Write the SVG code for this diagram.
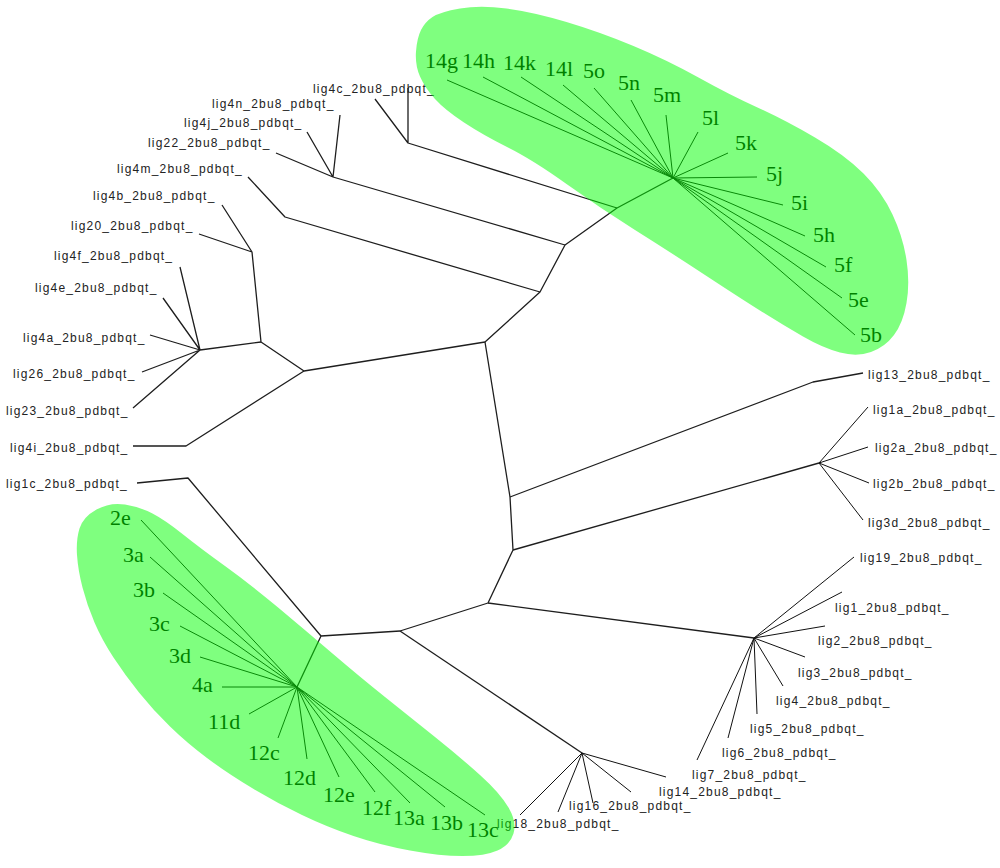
<svg xmlns="http://www.w3.org/2000/svg" width="1000" height="868" viewBox="0 0 1000 868">
<style>
.lbl{font-family:"Liberation Sans",Arial,sans-serif;font-size:12px;letter-spacing:1.2px;fill:#222}
.g{font-family:"Liberation Serif","Times New Roman",serif;font-size:22px;fill:#000}
.e{fill:none;stroke:#1e1e1e;stroke-width:1.3;stroke-linejoin:round}
.t{fill:none;stroke:#111;stroke-width:1}
.hl{fill:#00ff00;fill-opacity:0.5;stroke:none}
</style>
<rect width="1000" height="868" fill="#fff"/>
<g id="connectors">
<path class="e" d="M485,342 L540,292 L565,245 L617,208 L673,178"/>
<path class="e" d="M617,208 L408,143 L408,88 M408,143 L375,99"/>
<path class="e" d="M565,245 L333,177 L340,115 M333,177 L307,132 M333,177 L276,153"/>
<path class="e" d="M540,292 L285,217 L248,177"/>
<path class="e" d="M485,342 L304,371 L261,342 L252,252 L222,205 M252,252 L199,234"/>
<path class="e" d="M261,342 L200,350 L180,267 M200,350 L163,298 M200,350 L150,335 M200,350 L142,372 M200,350 L133,408"/>
<path class="e" d="M304,371 L186,446 L133,446"/>
<path class="e" d="M137,483 L188,478 L321,636"/>
<path class="e" d="M485,342 L510,497 L513,550 L488,603 L400,631 L321,636 L297,687"/>
<path class="e" d="M510,497 L813,382 L863,373"/>
<path class="e" d="M513,550 L819,463"/>
<path class="t" d="M819,463 L868,407 M819,463 L868,447 M819,463 L869,483 M819,463 L863,520"/>
<path class="e" d="M488,603 L754,638"/>
<path class="t" d="M754,638 L854,557 M754,638 L842,592 M754,638 L825,626 M754,638 L805,657 M754,638 L783,686 M754,638 L757,714 M754,638 L728,738 M754,638 L697,760"/>
<path class="e" d="M400,631 L582,753"/>
<path class="t" d="M582,753 L666,777 M582,753 L631,792 M582,753 L593,803 M582,753 L558,812 M582,753 L520,815"/>
<path class="t" d="M673,178 L447,80 M673,178 L483,77 M673,178 L521,77 M673,178 L563,85 M673,178 L594,88 M673,178 L631,100 M673,178 L666,115 M673,178 L698,132 M673,178 L728,153 M673,178 L757,177 M673,178 L783,205 M673,178 L805,236 M673,178 L826,267 M673,178 L842,298 M673,178 L855,335"/>
<path class="t" d="M297,687 L141,520 M297,687 L150,557 M297,687 L163,593 M297,687 L180,626 M297,687 L200,657 M297,687 L222,687 M297,687 L249,714 M297,687 L278,738 M297,687 L307,759 M297,687 L339,777 M297,687 L375,792 M297,687 L410,803 M297,687 L445,807 M297,687 L485,815"/>
</g>
<g id="nodes-left">
<g id="lig4c"><text class="lbl" x="313" y="93">lig4c_2bu8_pdbqt_</text></g>
<g id="lig4n"><text class="lbl" x="212" y="108">lig4n_2bu8_pdbqt_</text></g>
<g id="lig4j"><text class="lbl" x="184" y="127">lig4j_2bu8_pdbqt_</text></g>
<g id="lig22"><text class="lbl" x="148" y="147">lig22_2bu8_pdbqt_</text></g>
<g id="lig4m"><text class="lbl" x="117" y="173">lig4m_2bu8_pdbqt_</text></g>
<g id="lig4b"><text class="lbl" x="93" y="200">lig4b_2bu8_pdbqt_</text></g>
<g id="lig20"><text class="lbl" x="71" y="230">lig20_2bu8_pdbqt_</text></g>
<g id="lig4f"><text class="lbl" x="54" y="260">lig4f_2bu8_pdbqt_</text></g>
<g id="lig4e"><text class="lbl" x="35" y="292">lig4e_2bu8_pdbqt_</text></g>
<g id="lig4a"><text class="lbl" x="23" y="342">lig4a_2bu8_pdbqt_</text></g>
<g id="lig26"><text class="lbl" x="13" y="378">lig26_2bu8_pdbqt_</text></g>
<g id="lig23"><text class="lbl" x="6" y="415">lig23_2bu8_pdbqt_</text></g>
<g id="lig4i"><text class="lbl" x="10" y="452">lig4i_2bu8_pdbqt_</text></g>
<g id="lig1c"><text class="lbl" x="6" y="488">lig1c_2bu8_pdbqt_</text></g>
</g>
<g id="nodes-right">
<g id="lig13"><text class="lbl" x="868" y="379">lig13_2bu8_pdbqt_</text></g>
<g id="lig1a"><text class="lbl" x="873" y="414">lig1a_2bu8_pdbqt_</text></g>
<g id="lig2a"><text class="lbl" x="875" y="452">lig2a_2bu8_pdbqt_</text></g>
<g id="lig2b"><text class="lbl" x="873" y="488">lig2b_2bu8_pdbqt_</text></g>
<g id="lig3d"><text class="lbl" x="868" y="527">lig3d_2bu8_pdbqt_</text></g>
<g id="lig19"><text class="lbl" x="860" y="562">lig19_2bu8_pdbqt_</text></g>
<g id="lig1"><text class="lbl" x="835" y="612">lig1_2bu8_pdbqt_</text></g>
<g id="lig2"><text class="lbl" x="818" y="645">lig2_2bu8_pdbqt_</text></g>
<g id="lig3"><text class="lbl" x="798" y="677">lig3_2bu8_pdbqt_</text></g>
<g id="lig4"><text class="lbl" x="776" y="705">lig4_2bu8_pdbqt_</text></g>
<g id="lig5"><text class="lbl" x="750" y="733">lig5_2bu8_pdbqt_</text></g>
<g id="lig6"><text class="lbl" x="722" y="757">lig6_2bu8_pdbqt_</text></g>
<g id="lig7"><text class="lbl" x="692" y="779">lig7_2bu8_pdbqt_</text></g>
<g id="lig14"><text class="lbl" x="659" y="796">lig14_2bu8_pdbqt_</text></g>
<g id="lig16"><text class="lbl" x="569" y="810">lig16_2bu8_pdbqt_</text></g>
<g id="lig18"><text class="lbl" x="497" y="828">lig18_2bu8_pdbqt_</text></g>
</g>
<g id="nodes-top-cluster">
<g id="n14g"><text class="g" x="425" y="68">14g</text></g>
<g id="n14h"><text class="g" x="462" y="68">14h</text></g>
<g id="n14k"><text class="g" x="503" y="70">14k</text></g>
<g id="n14l"><text class="g" x="545" y="76">14l</text></g>
<g id="n5o"><text class="g" x="583" y="78">5o</text></g>
<g id="n5n"><text class="g" x="618" y="90">5n</text></g>
<g id="n5m"><text class="g" x="653" y="102">5m</text></g>
<g id="n5l"><text class="g" x="702" y="125">5l</text></g>
<g id="n5k"><text class="g" x="735" y="150">5k</text></g>
<g id="n5j"><text class="g" x="766" y="181">5j</text></g>
<g id="n5i"><text class="g" x="791" y="210">5i</text></g>
<g id="n5h"><text class="g" x="813" y="242">5h</text></g>
<g id="n5f"><text class="g" x="834" y="272">5f</text></g>
<g id="n5e"><text class="g" x="848" y="307">5e</text></g>
<g id="n5b"><text class="g" x="860" y="342">5b</text></g>
</g>
<g id="nodes-bottom-cluster">
<g id="n2e"><text class="g" x="110" y="525">2e</text></g>
<g id="n3a"><text class="g" x="123" y="562">3a</text></g>
<g id="n3b"><text class="g" x="133" y="597">3b</text></g>
<g id="n3c"><text class="g" x="149" y="631">3c</text></g>
<g id="n3d"><text class="g" x="169" y="663">3d</text></g>
<g id="n4a"><text class="g" x="192" y="692">4a</text></g>
<g id="n11d"><text class="g" x="208" y="729">11d</text></g>
<g id="n12c"><text class="g" x="248" y="760">12c</text></g>
<g id="n12d"><text class="g" x="283" y="785">12d</text></g>
<g id="n12e"><text class="g" x="323" y="802">12e</text></g>
<g id="n12f"><text class="g" x="362" y="815">12f</text></g>
<g id="n13a"><text class="g" x="393" y="825">13a</text></g>
<g id="n13b"><text class="g" x="430" y="830">13b</text></g>
<g id="n13c"><text class="g" x="467" y="837">13c</text></g>
</g>
<g id="highlights">
<path id="hl-top" class="hl" d="M460,8.5 Q480,5 506.5,8.5 Q533,12 566.5,22 Q600,32 633.5,46 Q667,60 698.5,77.5 Q730,95 757.5,107.5 Q785,120 815,137.5 Q845,155 863.5,173.5 Q882,192 892.5,214.5 Q903,237 906.5,260 Q910,283 906.5,303 Q903,323 894,335 Q885,347 871,352 Q857,357 840,352.5 Q823,348 803,336.5 Q783,325 761.5,311.5 Q740,298 705,275 Q670,252 635,230 Q600,208 566.5,184 Q533,160 508,147.5 Q483,135 464,122.5 Q445,110 435,99 Q425,88 420,76.5 Q415,65 416,51.5 Q417,38 421,30 Q425,22 432.5,17 Q440,12 460,8.5 Z"/>
<path id="hl-bottom" class="hl" d="M125,504.5 Q140,507 152.5,513.5 Q165,520 182.5,534 Q200,548 225,566 Q250,584 277.5,607 Q305,630 332.5,653.5 Q360,677 385,697 Q410,717 435,737 Q460,757 480,775 Q500,793 508.5,807.5 Q517,822 513.5,833.5 Q510,845 497.5,850.5 Q485,856 462.5,856 Q440,856 410,850.5 Q380,845 353.5,836 Q327,827 302,815 Q277,803 252,788 Q227,773 207,758 Q187,743 170,726.5 Q153,710 139,692.5 Q125,675 113.5,657.5 Q102,640 94.5,622.5 Q87,605 82.5,587.5 Q78,570 77,555 Q76,540 79.5,528.5 Q83,517 96.5,509.5 Q110,502 125,504.5 Z"/>
</g>
</svg>
